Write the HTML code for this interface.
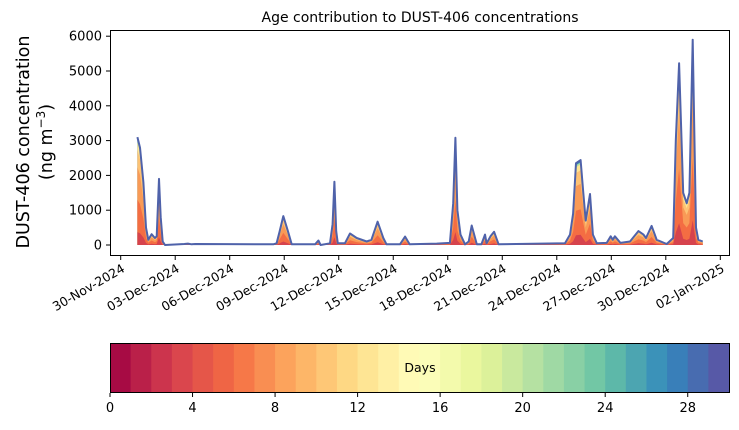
<!DOCTYPE html>
<html><head><meta charset="utf-8"><style>
body{margin:0;background:#fff;font-family:"Liberation Sans","DejaVu Sans",sans-serif}
svg text{font-family:"DejaVu Sans","Liberation Sans",sans-serif}
</style></head><body>
<svg id="chart" width="739" height="425" viewBox="0 0 739 425" xmlns="http://www.w3.org/2000/svg">
<text x="420" y="22" font-size="14" text-anchor="middle">Age contribution to DUST-406 concentrations</text>
<g font-size="17.5" text-anchor="middle">
<text transform="translate(29,142) rotate(-90)">DUST-406 concentration</text>
<text transform="translate(52,142) rotate(-90)">(ng m<tspan font-size="12" dy="-7">−3</tspan><tspan dy="7">)</tspan></text>
</g>
<g id="fills"></g>
<path id="line" fill="none" stroke="#4f62aa" stroke-width="2" stroke-linejoin="round"/>
<rect x="110.5" y="30.5" width="619" height="225" fill="none" stroke="#000" stroke-width="1"/>
<g id="yaxis"></g>
<g id="xaxis"></g>
<g id="cbar"></g>
</svg>
<script>
const days=[0.92,1.06,1.25,1.39,1.52,1.70,1.88,1.98,2.11,2.20,2.31,2.44,3.5,3.7,3.9,4.1,8.4,8.58,8.75,8.95,9.2,9.41,10.7,10.88,11.0,11.52,11.66,11.76,11.86,11.95,12.34,12.62,12.99,13.54,13.8,14.14,14.45,14.63,15.37,15.65,15.9,17.39,18.12,18.3,18.42,18.53,18.7,18.95,19.15,19.32,19.6,19.85,20.05,20.14,20.35,20.55,20.8,24.45,24.73,24.9,25.06,25.31,25.46,25.59,25.83,25.99,26.2,26.75,26.97,27.08,27.2,27.5,28.03,28.49,28.77,28.91,29.22,29.5,30.05,30.41,30.55,30.73,30.96,31.15,31.3,31.48,31.66,31.79,32.03];
const values=[3100,2800,1800,500,150,310,200,250,1900,800,100,0,30,40,20,30,20,50,400,830,400,20,20,130,0,50,600,1820,400,50,50,330,200,100,150,670,200,20,20,240,20,40,60,1200,3080,1000,300,20,100,560,20,20,300,50,250,380,20,50,300,900,2350,2440,1500,700,1465,300,50,60,250,150,250,60,100,400,300,200,550,150,30,200,3000,5220,1500,1200,1500,5900,500,150,100];
const yTicks=[0,1000,2000,3000,4000,5000,6000];
const xTickLabels=["30-Nov-2024","03-Dec-2024","06-Dec-2024","09-Dec-2024","12-Dec-2024","15-Dec-2024","18-Dec-2024","21-Dec-2024","24-Dec-2024","27-Dec-2024","30-Dec-2024","02-Jan-2025"];
const xTickDays=[0,3,6,9,12,15,18,21,24,27,30,33];
const layerFractions=[0.12,0.42,0.72,0.88,0.95,0.975,0.99,1];
const layerColors=["#d6434d","#f46d43","#f99a56","#fdc274","#fee593","#abdda4","#3288bd","#5e6fb0"];
const cbTicks=[0,4,8,12,16,20,24,28];
const NS="http://www.w3.org/2000/svg";
const xs=d=>120.7+d*18.17, ys=v=>245-v*0.0348;
function mk(t,a,p){const e=document.createElementNS(NS,t);for(const k in a)e.setAttribute(k,a[k]);p.appendChild(e);return e;}
const fills=document.getElementById('fills');
for(let L=layerFractions.length-1;L>=0;L--){
 let d="M"+xs(days[0])+","+ys(0);
 days.forEach((t,i)=>d+="L"+xs(t).toFixed(1)+","+ys(values[i]*layerFractions[L]).toFixed(1));
 d+="L"+xs(days[days.length-1])+","+ys(0)+"Z";
 const p=mk('path',{d:d,fill:layerColors[L]},fills);
 
 
}
let ld="";days.forEach((t,i)=>ld+=(i?"L":"M")+xs(t).toFixed(1)+","+ys(values[i]).toFixed(1));
document.getElementById('line').setAttribute('d',ld);
const ya=document.getElementById('yaxis');
yTicks.forEach(v=>{const y=ys(v);mk('line',{x1:106,x2:110,y1:y,y2:y,stroke:"#000"},ya);
 const t=mk('text',{x:102,y:y+4.5,'font-size':13,'text-anchor':'end'},ya);t.textContent=v;
 });
const xa=document.getElementById('xaxis');
xTickDays.forEach((d,i)=>{const x=xs(d);mk('line',{x1:x,x2:x,y1:256,y2:260,stroke:"#000"},xa);
 const t=mk('text',{transform:`translate(${x+5},${271}) rotate(-30)`,'font-size':12.5,'text-anchor':'end'},xa);t.textContent=xTickLabels[i];
 });
const sp=["#9e0142","#d53e4f","#f46d43","#fdae61","#fee08b","#ffffbf","#e6f598","#abdda4","#66c2a5","#3288bd","#5e4fa2"];
function spec(f){const p=f*10,i=Math.min(9,Math.floor(p)),r=p-i;const a=sp[i],b=sp[i+1];
 const c=k=>Math.round(parseInt(a.substr(k,2),16)*(1-r)+parseInt(b.substr(k,2),16)*r);return `rgb(${c(1)},${c(3)},${c(5)})`;}
const cb=document.getElementById('cbar');const cx=v=>110+v*(619/30);
for(let i=0;i<30;i++){const r=mk('rect',{x:cx(i),y:343,width:619/30+0.5,height:49,fill:spec((i+0.5)/30)},cb);
 }
mk('rect',{x:110.5,y:343.5,width:619,height:49,fill:"none",stroke:"#000"},cb);
const dl=mk('text',{x:420,y:372,'font-size':12.5,'text-anchor':'middle'},cb);dl.textContent="Days";

cbTicks.forEach(v=>{const x=cx(v);mk('line',{x1:x,x2:x,y1:393,y2:397,stroke:"#000"},cb);
 const t=mk('text',{x:x,y:412,'font-size':13,'text-anchor':'middle'},cb);t.textContent=v;
 });
</script>
</body></html>
